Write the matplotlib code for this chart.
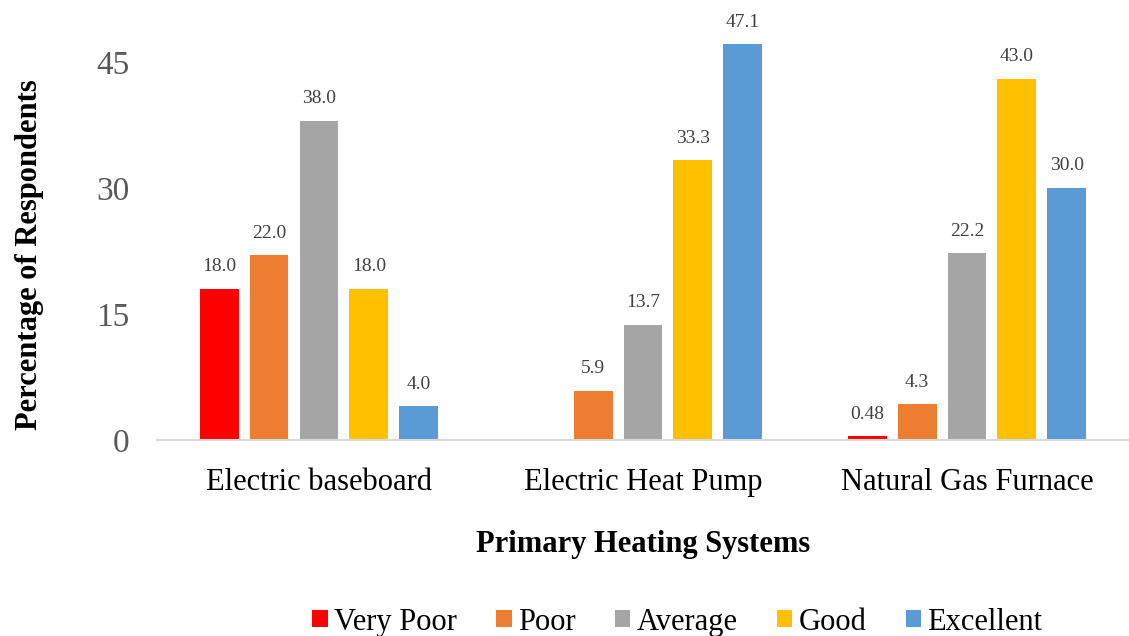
import numpy as np
import matplotlib.pyplot as plt

plt.rcParams['font.family'] = ['Liberation Serif', 'DejaVu Serif']

systems = ["Electric baseboard", "Electric Heat Pump", "Natural Gas Furnace"]
ratings = ["Very Poor", "Poor", "Average", "Good", "Excellent"]
colors = ["#ff0000", "#ed7d31", "#a5a5a5", "#ffc000", "#5b9bd5"]

very_poor = [18.0, None, 0.48]
poor = [22.0, 5.9, 4.3]
average = [38.0, 13.7, 22.2]
good = [18.0, 33.3, 43.0]
excellent = [4.0, 47.1, 30.0]
series = [very_poor, poor, average, good, excellent]

fig = plt.figure(figsize=(11.29, 6.36), dpi=100)
ax = fig.add_axes([0.139, 0.308, 0.861, 0.661])

x = np.arange(len(systems))
step = 0.154
width = 0.12
for i, (name, vals, c) in enumerate(zip(ratings, series, colors)):
    pos = x + (i - 2) * step
    for p, v in zip(pos, vals):
        if v is None:
            continue
        ax.bar(p, v, width, color=c)
        txt = "%.2f" % v if v < 1 else "%.1f" % v
        ax.text(p, v + 1.6, txt, ha='center', va='bottom', fontsize=14, color='#404040')
    ax.bar(0, 0, 0, color=c, label=name)

ax.set_xlim(-0.5, 2.5)
ax.set_ylim(0, 50)
ax.set_yticks([0, 15, 30, 45])
ax.set_xticks(x)
ax.set_xticklabels(systems, fontsize=22)
ax.tick_params(axis='y', labelsize=24, labelcolor='#595959', length=0, pad=20)
ax.tick_params(axis='x', length=0, pad=20)
for s in ['top', 'right', 'left']:
    ax.spines[s].set_visible(False)
ax.spines['bottom'].set_color('#d9d9d9')
ax.spines['bottom'].set_linewidth(1.5)

ax.set_xlabel("Primary Heating Systems", fontsize=22, fontweight='bold', labelpad=24)
fig.text(0.026, 0.6, "Percentage of Respondents", rotation=90, ha='center', va='center',
         fontsize=22, fontweight='bold')

fig.legend(loc='center', bbox_to_anchor=(0.6, 0.022), ncol=5, frameon=False,
           fontsize=22, handlelength=0.5, handleheight=0.5, handletextpad=0.2,
           columnspacing=1.3, borderpad=0)

fig.savefig("out.png", dpi=100)
